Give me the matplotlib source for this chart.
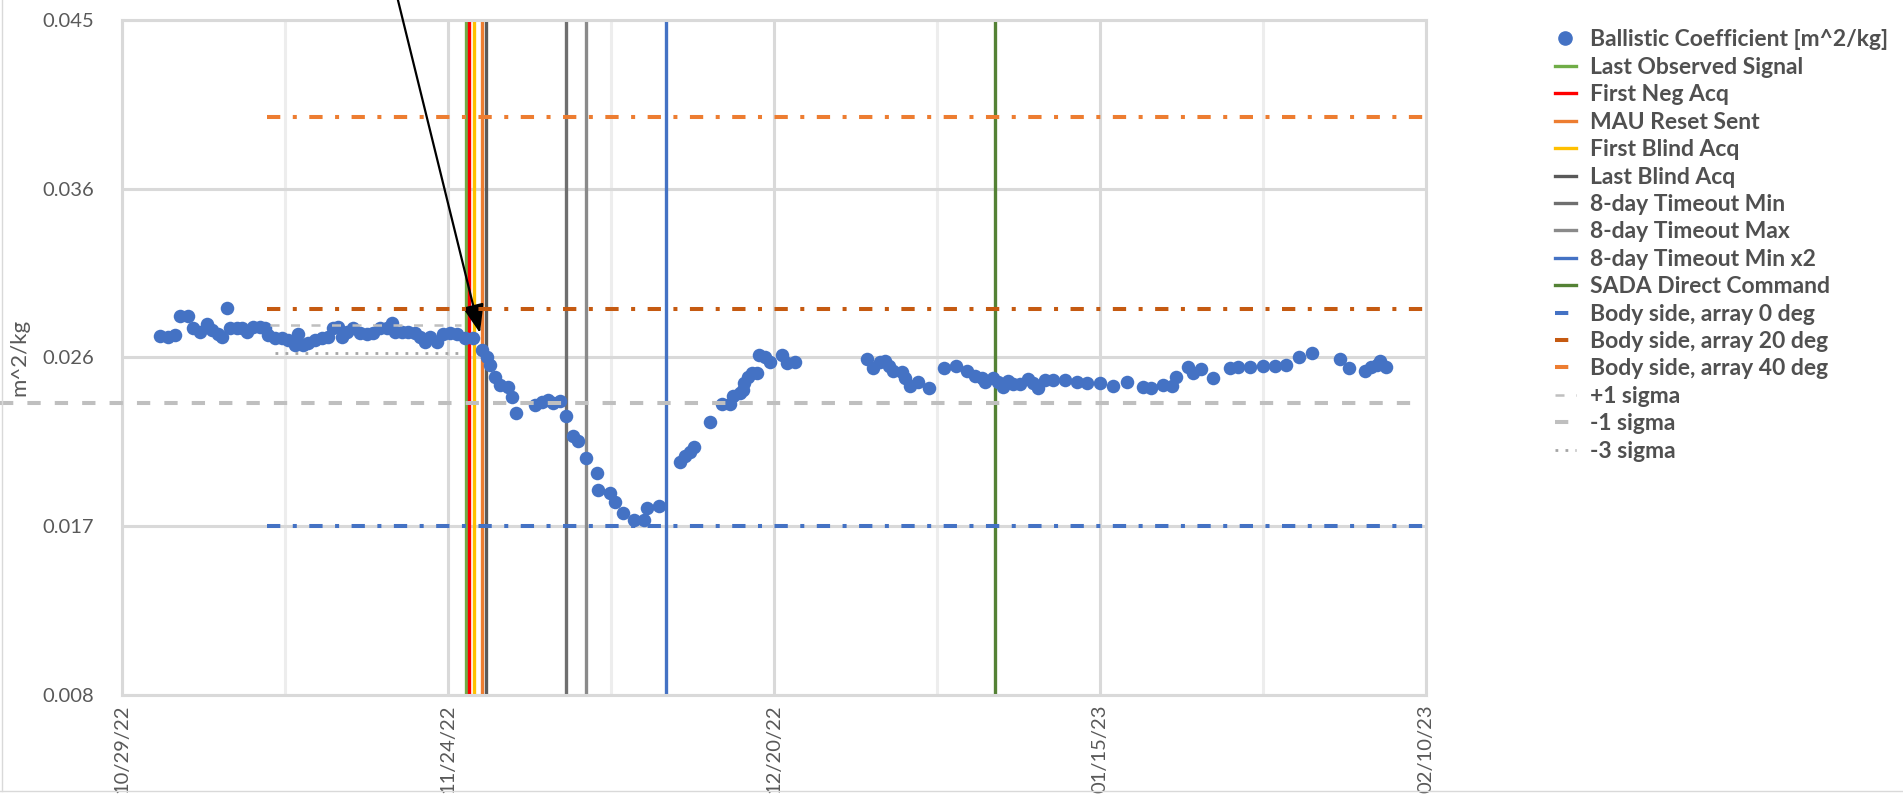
import matplotlib
matplotlib.use("Agg")
import matplotlib.pyplot as plt
import matplotlib.dates as mdates
from matplotlib.lines import Line2D
from matplotlib.ticker import FixedLocator, FixedFormatter
import numpy as np
import pandas as pd

plt.rcParams["font.family"] = ["Lato", "DejaVu Sans"]

start = pd.Timestamp("2022-10-29")

# ballistic coefficient, x in days after 10/29/22
bc_days = [3.03, 3.67, 4.23, 4.63, 5.26, 5.66, 6.22, 6.78, 7.18, 7.66, 7.98, 8.37, 8.61, 9.17,
           9.57, 9.97, 10.45, 11.01, 11.41, 11.64, 12.20, 12.76, 13.24, 13.80, 14.04, 14.44,
           14.83, 15.39, 15.95, 16.43, 16.83, 17.23, 17.55, 17.95, 18.42, 18.98, 19.54, 20.02,
           20.58, 21.14, 21.53, 21.77, 22.33, 22.81, 23.37, 23.77, 24.17, 24.57, 25.12, 25.60,
           26.16, 26.72, 27.36, 28.00, 28.71, 29.11, 29.35, 29.75, 30.15, 30.79, 31.11, 31.43,
           32.94, 33.50, 33.98, 34.38, 34.93, 35.41, 35.97, 36.37, 37.01, 37.89, 37.96, 38.92,
           39.32, 39.96, 40.84, 41.63, 41.87, 42.83, 44.50, 44.90, 45.30, 45.62, 46.90, 47.85,
           48.49, 48.73, 49.29, 49.53, 49.61, 49.93, 50.25, 50.65, 50.81, 51.28, 51.68, 52.64,
           53.04, 53.68, 59.42, 59.90, 60.46, 60.86, 61.17, 61.49, 62.21, 62.45, 62.85, 63.49,
           64.36, 65.56, 66.52, 67.40, 68.03, 68.59, 68.83, 69.47, 69.87, 70.27, 70.67, 71.06,
           71.62, 72.26, 72.66, 73.06, 73.62, 74.26, 75.21, 76.17, 76.97, 78.00, 79.04, 80.16,
           81.43, 82.07, 83.03, 83.75, 84.07, 85.02, 85.42, 86.06, 87.02, 88.37, 89.01, 89.97,
           91.00, 91.96, 92.84, 93.87, 94.91, 97.15, 97.86, 99.14, 99.62, 100.10, 100.34, 100.81]
bc_vals = [0.02768, 0.02762, 0.02773, 0.02877, 0.02877, 0.02812, 0.02790, 0.02834, 0.02801,
           0.02779, 0.02762, 0.02921, 0.02812, 0.02812, 0.02812, 0.02790, 0.02817, 0.02817,
           0.02812, 0.02773, 0.02757, 0.02757, 0.02746, 0.02719, 0.02779, 0.02719, 0.02729,
           0.02746, 0.02757, 0.02762, 0.02812, 0.02817, 0.02762, 0.02790, 0.02812, 0.02784,
           0.02779, 0.02784, 0.02812, 0.02812, 0.02839, 0.02790, 0.02790, 0.02790, 0.02784,
           0.02762, 0.02735, 0.02762, 0.02735, 0.02779, 0.02784, 0.02779, 0.02757, 0.02757,
           0.02691, 0.02653, 0.02609, 0.02543, 0.02499, 0.02488, 0.02433, 0.02346, 0.02390,
           0.02406, 0.02417, 0.02401, 0.02412, 0.02329, 0.02220, 0.02192, 0.02099, 0.02017,
           0.01924, 0.01907, 0.01858, 0.01798, 0.01759, 0.01759, 0.01825, 0.01836, 0.02077,
           0.02110, 0.02132, 0.02159, 0.02296, 0.02395, 0.02395, 0.02439, 0.02455, 0.02472,
           0.02510, 0.02543, 0.02565, 0.02565, 0.02664, 0.02653, 0.02625, 0.02664, 0.02620,
           0.02625, 0.02642, 0.02592, 0.02625, 0.02631, 0.02603, 0.02576, 0.02571, 0.02538,
           0.02494, 0.02516, 0.02483, 0.02592, 0.02603, 0.02576, 0.02549, 0.02538, 0.02516,
           0.02538, 0.02516, 0.02488, 0.02521, 0.02505, 0.02505, 0.02532, 0.02510, 0.02483,
           0.02527, 0.02527, 0.02527, 0.02516, 0.02510, 0.02510, 0.02494, 0.02516, 0.02488,
           0.02483, 0.02499, 0.02494, 0.02543, 0.02598, 0.02565, 0.02587, 0.02538, 0.02592,
           0.02598, 0.02598, 0.02603, 0.02603, 0.02609, 0.02653, 0.02675, 0.02642, 0.02592,
           0.02576, 0.02598, 0.02609, 0.02631, 0.02598]

event_names = ["Last Observed Signal", "First Neg Acq", "MAU Reset Sent", "First Blind Acq",
               "Last Blind Acq", "8-day Timeout Min", "8-day Timeout Max",
               "8-day Timeout Min x2", "SADA Direct Command"]
event_days = [27.41, 27.68, 28.69, 28.07, 29.01, 35.41, 37.01, 43.41, 69.63]
event_colors = ["#70AD47", "#FF0000", "#ED7D31", "#FFC000", "#595959", "#6F6F6F",
                "#8A8A8A", "#4472C4", "#548235"]

body_names = ["Body side, array 0 deg", "Body side, array 20 deg", "Body side, array 40 deg"]
body_vals = [0.01725, 0.02916, 0.03968]
body_colors = ["#4472C4", "#C55A11", "#ED7D31"]
body_from, body_to = 11.6, 104

sigma_names = ["+1 sigma", "-1 sigma", "-3 sigma"]
sigma_vals = [0.02828, 0.02401, 0.02675]
sigma_from = [11.8, -9.7, 12.2]
sigma_to = [27.0, 103.1, 26.9]

arrow_day, arrow_val = 28.55, 0.02784

xtick_days = [0, 26, 52, 78, 104]
ytick_vals = [0.008, 0.01725, 0.0265, 0.03575, 0.045]
ytick_labels = ["0.008", "0.017", "0.026", "0.036", "0.045"]

t0 = mdates.date2num(start)
grey = "#595959"

fig = plt.figure(figsize=(19.03, 7.96), dpi=100)
ax = fig.add_axes([0.0641, 0.1269, 0.6853, 0.848])

ax.scatter(t0 + np.array(bc_days), bc_vals, s=95, color="#4472C4", zorder=3, linewidths=0)

for d, c in zip(event_days, event_colors):
    ax.axvline(t0 + d, color=c, lw=2.4, zorder=2)

lw_b = 2.9
for v, c in zip(body_vals, body_colors):
    ax.plot([t0 + body_from, t0 + body_to], [v, v], color=c, lw=lw_b,
            dashes=(3.3, 3.1, 1.0, 3.1), zorder=4)

sig_styles = [dict(color="#BFBFBF", lw=1.8, dashes=(3.6, 4.6)),
              dict(color="#BFBFBF", lw=2.9, dashes=(3.3, 3.5)),
              dict(color="#A5A5A5", lw=2.0, dashes=(1.0, 2.6))]
for v, a, b, st in zip(sigma_vals, sigma_from, sigma_to, sig_styles):
    ax.plot([t0 + a, t0 + b], [v, v], zorder=4, clip_on=False, **st)

ax.set_xlim(t0 + xtick_days[0], t0 + xtick_days[-1])
ax.set_ylim(ytick_vals[0], ytick_vals[-1])
ax.xaxis.set_major_locator(FixedLocator(t0 + np.array(xtick_days)))
ax.xaxis.set_minor_locator(FixedLocator(t0 + np.arange(13, 104, 26)))
ax.xaxis.set_major_formatter(mdates.DateFormatter("%m/%d/%y"))
ax.yaxis.set_major_locator(FixedLocator(ytick_vals))
ax.yaxis.set_major_formatter(FixedFormatter(ytick_labels))

ax.grid(which="major", color="#D9D9D9", lw=2.2, zorder=0)
ax.grid(which="minor", axis="x", color="#EDEDED", lw=2.2, zorder=0)
ax.set_axisbelow(True)
for s in ax.spines.values():
    s.set_color("#D9D9D9")
    s.set_linewidth(2.2)

ax.tick_params(axis="both", which="both", length=0, labelsize=14.5, labelcolor=grey)
ax.tick_params(axis="y", pad=20)
ax.tick_params(axis="x", pad=7, labelrotation=90)

ax.set_ylabel("m^2/kg", fontsize=16, color=grey)
ax.yaxis.set_label_coords(-0.071, 0.5)

ax.annotate("", xy=(t0 + arrow_day, arrow_val), xycoords="data",
            xytext=(0.2091, 1.0), textcoords="figure fraction", annotation_clip=False,
            arrowprops=dict(arrowstyle="-|>,head_length=0.8,head_width=0.3", color="black",
                            lw=1.6, shrinkA=0, shrinkB=0, mutation_scale=22))

handles = [Line2D([], [], marker="o", ls="", color="#4472C4", markersize=9.5)]
labels = ["Ballistic Coefficient [m^2/kg]"]
for n, c in zip(event_names, event_colors):
    handles.append(Line2D([], [], color=c, lw=2.4))
    labels.append(n)
for n, c in zip(body_names, body_colors):
    handles.append(Line2D([], [], color=c, lw=lw_b, dashes=(3.3, 3.1, 1.0, 3.1)))
    labels.append(n)
for n, st in zip(sigma_names, sig_styles):
    handles.append(Line2D([], [], **st))
    labels.append(n)

fig.legend(handles, labels, loc="upper left", bbox_to_anchor=(0.8171, 0.963),
           frameon=False, prop={"weight": "bold", "size": 16.5}, labelcolor="#505050",
           handlelength=0.9, handletextpad=0.65, labelspacing=0.28,
           borderpad=0, borderaxespad=0)

fig.add_artist(Line2D([0.001, 0.001], [0.006, 1.0], transform=fig.transFigure,
                      color="#D9D9D9", lw=1))
fig.add_artist(Line2D([0.0, 1.0], [0.006, 0.006], transform=fig.transFigure,
                      color="#D9D9D9", lw=1))

fig.savefig("out.png", dpi=100)
